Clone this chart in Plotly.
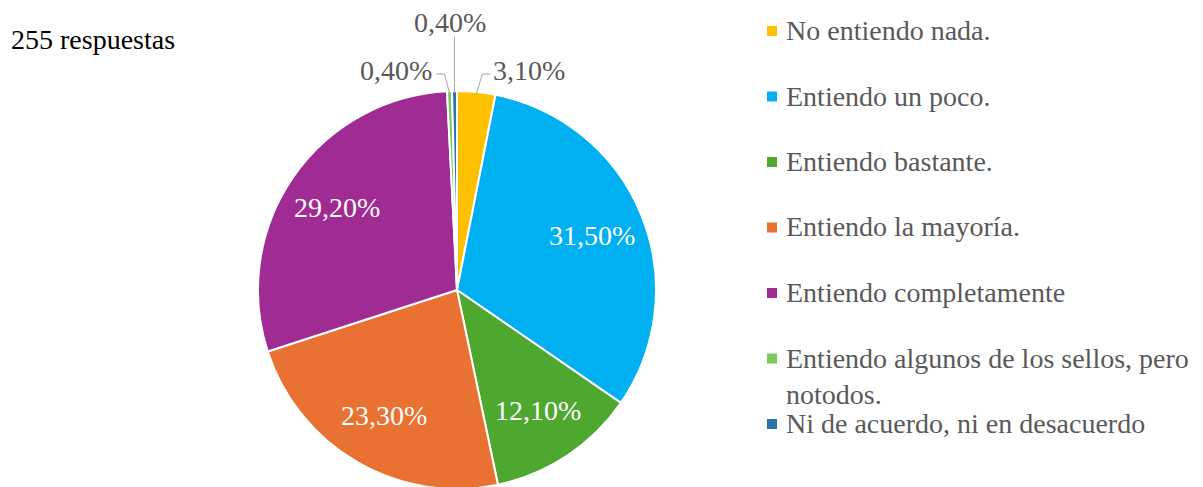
import math
import plotly.graph_objects as go

# survey answers (255 responses)
categories = [
    "No entiendo nada.",
    "Entiendo un poco.",
    "Entiendo bastante.",
    "Entiendo la mayoría.",
    "Entiendo completamente",
    "Entiendo algunos de los sellos, pero<br>notodos.",
    "Ni de acuerdo, ni en desacuerdo",
]
percentages = [3.10, 31.50, 12.10, 23.30, 29.20, 0.40, 0.40]
colors = ["#FFC000", "#00B0F0", "#4EA72E", "#E97132", "#A02B93", "#7CC75E", "#2677AB"]

FONT = "Liberation Serif"
GREY = "#595959"
W, H = 1203, 487
OFF = 8  # page body margin of the html page

# pie geometry in page pixels
CX, CY, R = 457, 290, 199


def px(x, y):
    """page pixels -> paper coords"""
    return (x - OFF) / W, 1 - (y - OFF) / H


x0, y1 = px(CX - R, CY - R)
x1, y0 = px(CX + R, CY + R)

fig = go.Figure(go.Pie(
    labels=categories,
    values=percentages,
    textinfo="none",
    sort=False,
    direction="clockwise",
    rotation=0,
    marker=dict(colors=colors, line=dict(color="white", width=2)),
    domain=dict(x=[x0, x1], y=[y0, y1]),
    showlegend=False,
    hoverinfo="label+percent",
))

# data labels, placed on each slice's mid angle
total = sum(percentages)
cum = 0
# small slices get an outside label with a leader line
outside = {0: "right", 5: "left", 6: "top"}
for i, v in enumerate(percentages):
    mid = (cum + v / 2) / total * 2 * math.pi
    cum += v
    txt = f"{v:.2f}".replace(".", ",") + "%"
    if i not in outside:
        lx, ly = px(CX + 0.73 * R * math.sin(mid), CY - 0.73 * R * math.cos(mid))
        fig.add_annotation(x=lx, y=ly, xref="paper", yref="paper", showarrow=False,
                           xanchor="center", yanchor="middle",
                           text=txt, font=dict(family=FONT, size=28, color="white"))
        continue
    ex, ey = CX + R * math.sin(mid), CY - R * math.cos(mid) + 2
    side = outside[i]
    if side == "top":
        pts = [(ex, ey), (ex, 37)]
        tx, ty, anchor = ex - 4, 23, "center"
    elif side == "left":
        pts = [(ex, ey), (ex - 5, 74), (ex - 13, 74)]
        tx, ty, anchor = ex - 15, 70, "right"
    else:
        pts = [(ex, ey), (ex + 6, 74), (ex + 14, 74)]
        tx, ty, anchor = ex + 15, 70, "left"
    path = "M " + " L ".join("%.5f,%.5f" % px(a, b) for a, b in pts)
    fig.add_shape(type="path", xref="paper", yref="paper", path=path,
                  line=dict(color="#A6A6A6", width=1))
    ax_, ay_ = px(tx, ty)
    fig.add_annotation(x=ax_, y=ay_, xref="paper", yref="paper", showarrow=False,
                       xanchor=anchor, yanchor="middle", text=txt,
                       font=dict(family=FONT, size=28, color=GREY))

# legend drawn by hand so the row spacing matches
row0, step = 31, 65.5
for i, (name, col) in enumerate(zip(categories, colors)):
    yc = row0 + step * i
    sx0, sy1 = px(767, yc - 5)
    sx1, sy0 = px(777, yc + 5)
    fig.add_shape(type="rect", xref="paper", yref="paper",
                  x0=sx0, x1=sx1, y0=sy0, y1=sy1,
                  fillcolor=col, line=dict(width=0))
    tx, ty = px(784, yc - 18)
    fig.add_annotation(x=tx, y=ty, xref="paper", yref="paper",
                       xanchor="left", yanchor="top", align="left", showarrow=False,
                       text=name, font=dict(family=FONT, size=28, color=GREY))

tx, ty = px(9, 40)
fig.add_annotation(x=tx, y=ty, xref="paper", yref="paper",
                   xanchor="left", yanchor="middle", showarrow=False,
                   text="255 respuestas", font=dict(family=FONT, size=28, color="black"))

fig.update_layout(
    width=W, height=H,
    margin=dict(l=0, r=0, t=0, b=0),
    paper_bgcolor="white",
    plot_bgcolor="white",
)

fig.write_html("out.html")
